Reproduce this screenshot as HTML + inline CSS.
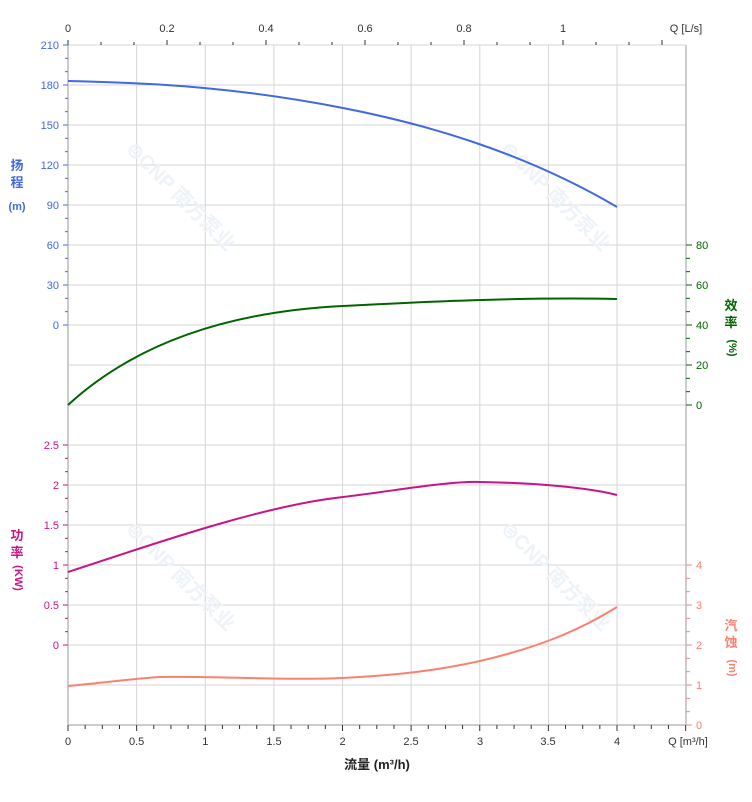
<!DOCTYPE html>
<html><head><meta charset="utf-8"><style>
body{margin:0;background:#fff;}
svg{font-family:"Liberation Sans","Noto Sans CJK SC",sans-serif;}
</style></head><body>
<svg id="s" width="752" height="797" viewBox="0 0 752 797" xmlns="http://www.w3.org/2000/svg">
<g stroke="#d6d6d6" stroke-width="1">
<line x1="136.6" y1="45" x2="136.6" y2="725"/><line x1="205.3" y1="45" x2="205.3" y2="725"/>
<line x1="273.9" y1="45" x2="273.9" y2="725"/><line x1="342.5" y1="45" x2="342.5" y2="725"/>
<line x1="411.1" y1="45" x2="411.1" y2="725"/><line x1="479.8" y1="45" x2="479.8" y2="725"/>
<line x1="548.4" y1="45" x2="548.4" y2="725"/><line x1="617" y1="45" x2="617" y2="725"/>
<line x1="68" y1="85" x2="686" y2="85"/><line x1="68" y1="125" x2="686" y2="125"/>
<line x1="68" y1="165" x2="686" y2="165"/><line x1="68" y1="205" x2="686" y2="205"/>
<line x1="68" y1="245" x2="686" y2="245"/><line x1="68" y1="285" x2="686" y2="285"/>
<line x1="68" y1="325" x2="686" y2="325"/><line x1="68" y1="365" x2="686" y2="365"/>
<line x1="68" y1="405" x2="686" y2="405"/><line x1="68" y1="445" x2="686" y2="445"/>
<line x1="68" y1="485" x2="686" y2="485"/><line x1="68" y1="525" x2="686" y2="525"/>
<line x1="68" y1="565" x2="686" y2="565"/><line x1="68" y1="605" x2="686" y2="605"/>
<line x1="68" y1="645" x2="686" y2="645"/><line x1="68" y1="685" x2="686" y2="685"/>
<line x1="68" y1="45" x2="686" y2="45"/>
</g>
<g stroke="#ccc" stroke-width="2"><line x1="68" y1="45" x2="68" y2="725"/><line x1="686" y1="45" x2="686" y2="725"/><line x1="68" y1="725" x2="686" y2="725"/></g>
<g fill="#eef3f8" font-weight="bold" font-size="20">
<text transform="translate(125,150) rotate(45)">⊜CNP 南方泵业</text>
<text transform="translate(500,150) rotate(45)">⊜CNP 南方泵业</text>
<text transform="translate(125,530) rotate(45)">⊜CNP 南方泵业</text>
<text transform="translate(500,530) rotate(45)">⊜CNP 南方泵业</text>
</g>
<g id="ticks"></g>
<g font-size="11" fill="#333" text-anchor="middle">
<text x="68" y="32">0</text><text x="167" y="32">0.2</text><text x="266" y="32">0.4</text><text x="365" y="32">0.6</text><text x="464" y="32">0.8</text><text x="563" y="32">1</text>
<text x="686" y="32">Q [L/s]</text>
</g>
<g font-size="11" fill="#333" text-anchor="middle">
<text x="68" y="745">0</text><text x="136.6" y="745">0.5</text><text x="205.3" y="745">1</text><text x="274" y="745">1.5</text>
<text x="342.5" y="745">2</text><text x="411" y="745">2.5</text><text x="480" y="745">3</text><text x="548" y="745">3.5</text><text x="617" y="745">4</text>
<text x="688" y="745">Q [m³/h]</text>
</g>
<text x="377" y="769" font-size="13" font-weight="bold" fill="#222" text-anchor="middle">流量 (m³/h)</text>
<g font-size="11" fill="#4169e1" text-anchor="end">
<text x="59" y="49">210</text><text x="59" y="89">180</text><text x="59" y="129">150</text><text x="59" y="169">120</text>
<text x="59" y="209">90</text><text x="59" y="249">60</text><text x="59" y="289">30</text><text x="59" y="329">0</text>
</g>
<g font-size="13" font-weight="bold" fill="#4169e1" text-anchor="middle">
<text x="17" y="170">扬</text><text x="17" y="187">程</text><text x="17" y="210" font-size="11">(m)</text>
</g>
<g font-size="11" fill="#c71585" text-anchor="end">
<text x="59" y="449">2.5</text><text x="59" y="489">2</text><text x="59" y="529">1.5</text><text x="59" y="569">1</text><text x="59" y="609">0.5</text><text x="59" y="649">0</text>
</g>
<g font-size="13" font-weight="bold" fill="#c71585" text-anchor="middle">
<text x="17" y="540">功</text><text x="17" y="557">率</text><text x="17" y="580" font-size="11" transform="rotate(90 17 578)">(KW)</text>
</g>
<g font-size="11" fill="#006400"><text x="696" y="249">80</text><text x="696" y="289">60</text><text x="696" y="329">40</text><text x="696" y="369">20</text><text x="696" y="409">0</text></g>
<g font-size="13" font-weight="bold" fill="#006400" text-anchor="middle">
<text x="731" y="310">效</text><text x="731" y="327">率</text><text x="731" y="350" font-size="11" transform="rotate(90 731 348)">(%)</text>
</g>
<g font-size="11" fill="#fa8072"><text x="696" y="569">4</text><text x="696" y="609">3</text><text x="696" y="649">2</text><text x="696" y="689">1</text><text x="696" y="729">0</text></g>
<g font-size="13" font-weight="bold" fill="#fa8072" text-anchor="middle">
<text x="731" y="630">汽</text><text x="731" y="647">蚀</text><text x="731" y="670" font-size="11" transform="rotate(90 731 668)">(m)</text>
</g>
<g fill="none" stroke-width="2">
<path stroke="#4169e1" d="M68,81 C160,83 240,88 343,108 C420,123 520,150 617,207"/>
<path stroke="#006400" d="M68,405 C130,348 220,312 343,306 C420,302 520,297 617,299"/>
<path stroke="#c71585" d="M68,572 C180,535 270,505 343,497 C400,490 450,481 480,482 C540,483 590,488 617,495"/>
<path stroke="#fa8072" d="M68,686 C110,682 140,678 160,677 C220,676 280,680.5 343,678 C400,675 440,670 480,661 C540,647 580,630 617,607"/>
</g>
</svg>
<script>
var g=document.getElementById('ticks'),h='';
function L(x1,y1,x2,y2,c){h+='<line x1="'+x1+'" y1="'+y1+'" x2="'+x2+'" y2="'+y2+'" stroke="'+c+'" stroke-width="1"/>';}
for(var i=0;i<=18;i++){var x=68+i*33;L(x,45,x,i%3==0?40:42,'#333');}
for(i=0;i<=36;i++){x=68+i*137.25/8;L(x,725,x,i%4==0?731:729,'#333');}
for(i=0;i<=21;i++){var y=45+i*40/3;L(i%3==0?63:65,y,68,y,'#4169e1');}
for(i=0;i<=15;i++){y=445+i*40/3;L(i%3==0?63:65,y,68,y,'#c71585');}
for(i=0;i<=12;i++){y=245+i*40/3;L(686,y,i%3==0?692:690,y,'#006400');}
for(i=0;i<=12;i++){y=565+i*40/3;L(686,y,i%3==0?692:690,y,'#fa8072');}
g.innerHTML=h;
</script>
</body></html>
